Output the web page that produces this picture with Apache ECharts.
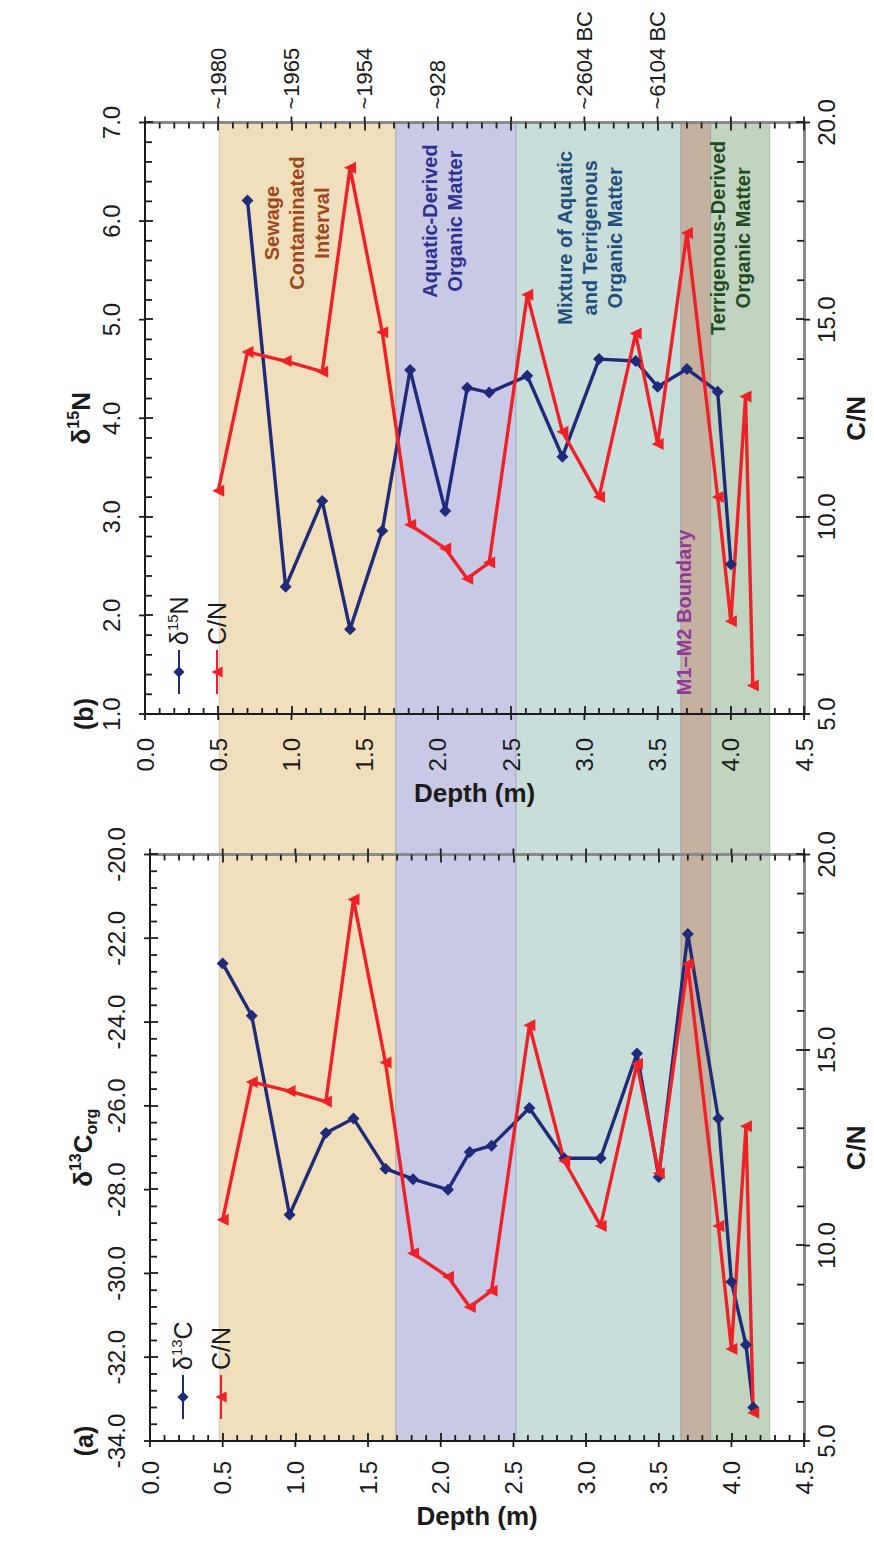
<!DOCTYPE html>
<html>
<head>
<meta charset="utf-8">
<script src="https://cdn.jsdelivr.net/npm/echarts@6/dist/echarts.min.js"></script>
<style>
  html, body { margin: 0; padding: 0; background: #fff; }
  #wrap { position: relative; width: 874px; height: 1545px; overflow: hidden; }
  /* the figure is laid out upright (1545 x 874) and turned a quarter turn */
  #chart { position: absolute; left: 0; top: 0; width: 1545px; height: 874px;
           transform-origin: 0 0; transform: translateY(1545px) rotate(-90deg); }
</style>
</head>
<body>
<div id="wrap"><div id="chart"></div></div>
<script>
// sample depths (m) and measurements
var depth = [0.50, 0.70, 0.96, 1.21, 1.40, 1.62, 1.81, 2.05, 2.20, 2.35, 2.61, 2.85, 3.10, 3.35, 3.50, 3.70, 3.91, 4.00, 4.10, 4.15];
var d13C  = [-22.6, -23.85, -28.6, -26.65, -26.3, -27.5, -27.75, -28.0, -27.1, -26.95, -26.05, -27.25, -27.25, -24.75, -27.7, -21.9, -26.3, -30.2, -31.7, -33.2];
var d15N  = [null, 6.21, 2.29, 3.16, 1.86, 2.86, 4.49, 3.06, 4.31, 4.26, 4.43, 3.61, 4.60, 4.58, 4.32, 4.50, 4.27, 2.52, null, null];
var cn    = [10.66, 14.18, 13.95, 13.68, 18.85, 14.68, 9.8, 9.2, 8.43, 8.84, 15.63, 12.16, 10.5, 14.65, 11.85, 17.2, 10.5, 7.35, 13.05, 5.72];

// depth zones
var bandFrom = [0.5, 1.69, 2.5, 3.61, 3.81];
var bandTo   = [1.69, 2.5, 3.61, 3.81, 4.21];
var bandText = ['Sewage\nContaminated\nInterval', 'Aquatic-Derived\nOrganic Matter',
                'Mixture of Aquatic\nand Terrigenous\nOrganic Matter', 'M1\u2013M2 Boundary',
                'Terrigenous-Derived\nOrganic Matter'];
var bandTextDepth = [1.04, 2.03, 3.04, 3.68, 4.0];
var bandTextN     = [5.98, 6.0, 5.83, 2.03, 5.83];

// age markers on the top of panel (b)
var ageDepth = [0.5, 1.0, 1.5, 2.0, 3.0, 3.5];
var ageText  = ['~1980', '~1965', '~1954', '~928', '~2604 BC', '~6104 BC'];

var font = '"Liberation Sans", Arial, sans-serif';
var ink = '#1b1b1b', gray = '#8a8a8a';
var blue = '#1f2a7a', red = '#ee2226';
var bandFill  = ['#f1deba', '#c7c9e6', '#c7dedb', '#c6b19f', '#c1d4bf'];
var bandColor = ['#a0461f', '#2e3192', '#1f4f7c', '#8d3a9e', '#1f4d22'];

function pairs(xs) {
  var out = [];
  depth.forEach(function (d, i) { if (xs[i] != null) out.push([xs[i], d]); });
  return out;
}

function axis(o) {
  var a = {
    type: 'value', gridIndex: o.grid, position: o.pos,
    min: o.min, max: o.max, interval: o.step, inverse: !!o.inverse, z: 4,
    axisLine: { show: true, onZero: false, lineStyle: { color: o.dark ? ink : gray, width: o.dark ? 2 : 3 } },
    axisTick: { show: true, inside: true, length: 8, lineStyle: { color: ink, width: 1.8 } },
    splitLine: { show: false },
    axisLabel: {
      show: o.labels !== false, margin: o.margin || 10, fontSize: o.fs || 24, color: ink, fontFamily: font,
      hideOverlap: false,
      formatter: o.fmt || function (v) { return v.toFixed(1); }
    }
  };
  if (o.name) {
    a.name = o.name;
    a.nameLocation = 'middle';
    a.nameGap = o.gap;
    a.nameRotate = o.rot || 0;
    a.nameTextStyle = {
      fontFamily: font, fontWeight: 'bold', fontSize: 26, color: ink,
      rich: {
        n: { fontFamily: font, fontWeight: 'bold', fontSize: 26, lineHeight: 32, color: ink },
        s: { fontFamily: font, fontWeight: 'bold', fontSize: 16, lineHeight: 32, verticalAlign: 'top', color: ink },
        b: { fontFamily: font, fontWeight: 'bold', fontSize: 16, lineHeight: 32, verticalAlign: 'bottom', color: ink }
      }
    };
  }
  return a;
}

function ageFmt(v) {
  var i = ageDepth.indexOf(Math.round(v * 10) / 10);
  return i < 0 ? '' : ageText[i];
}

var legendText = {
  fontFamily: font, fontSize: 25, color: ink, lineHeight: 28,
  rich: {
    n: { fontFamily: font, fontSize: 25, lineHeight: 28, color: ink },
    s: { fontFamily: font, fontSize: 15, lineHeight: 28, verticalAlign: 'top', color: ink }
  }
};
function legendFmt(name) {
  if (name === 'δ15N') return '{n|δ}{s|15}{n|N}';
  if (name === 'δ13C') return '{n|δ}{s|13}{n|C}';
  return '{n|' + name + '}';
}

function line(name, xi, yi, xs, color, sym, size) {
  return {
    name: name, type: 'line', xAxisIndex: xi, yAxisIndex: yi, data: pairs(xs),
    symbol: sym, symbolSize: size, z: 6,
    lineStyle: { color: color, width: 3.4 }, itemStyle: { color: color }
  };
}

var chart = echarts.init(document.getElementById('chart'), null, { renderer: 'svg' });

chart.setOption({
  animation: false,
  grid: [
    { left: 831, top: 145, width: 591.5, height: 668 },   // panel (b)
    { left: 104, top: 150, width: 586.5, height: 664 },   // panel (a)
    { left: 104, top: 145, width: 1318.5, height: 668 }   // zones behind both
  ],
  xAxis: [
    axis({ grid: 0, pos: 'top', min: 1, max: 7, step: 1, dark: true, margin: 22,
           name: '{n|δ}{s|15}{n|N}', gap: 45 }),
    axis({ grid: 0, pos: 'bottom', min: 5, max: 20, step: 5, margin: 10,
           name: 'C/N', gap: 12 }),
    axis({ grid: 1, pos: 'top', min: -34, max: -20, step: 2, dark: true, margin: 22,
           name: '{n|δ}{s|13}{n|C}{b|org}', gap: 50 }),
    axis({ grid: 1, pos: 'bottom', min: 5, max: 20, step: 5, margin: 10,
           name: 'C/N', gap: 12 }),
    { type: 'value', gridIndex: 2, min: 0, max: 1, show: false }
  ],
  yAxis: [
    axis({ grid: 0, pos: 'left', min: 0, max: 4.5, step: 0.5, inverse: true, dark: true, margin: 24,
           name: 'Depth (m)', gap: 66, rot: -90 }),
    axis({ grid: 0, pos: 'right', min: 0, max: 4.5, step: 0.5, inverse: true, margin: 13, fs: 22, fmt: ageFmt }),
    axis({ grid: 1, pos: 'left', min: 0, max: 4.5, step: 0.5, inverse: true, dark: true, margin: 20,
           name: 'Depth (m)', gap: 62, rot: -90 }),
    axis({ grid: 1, pos: 'right', min: 0, max: 4.5, step: 0.5, inverse: true, labels: false }),
    { type: 'value', gridIndex: 2, min: 0, max: 4.5, inverse: true, show: false }
  ],
  legend: [
    { data: ['δ15N', 'C/N'], orient: 'vertical', left: 845, top: 160, itemWidth: 44, itemHeight: 14,
      itemGap: 10, selectedMode: false, textStyle: legendText, formatter: legendFmt },
    { data: ['δ13C', 'C/N'], orient: 'vertical', left: 120, top: 164, itemWidth: 44, itemHeight: 14,
      itemGap: 10, selectedMode: false, textStyle: legendText, formatter: legendFmt }
  ],
  series: [
    {
      type: 'line', xAxisIndex: 4, yAxisIndex: 4, data: [[0, 0]], symbol: 'none', silent: true, z: 0,
      lineStyle: { opacity: 0 },
      markArea: {
        silent: true,
        data: bandFrom.map(function (f, i) {
          return [{ yAxis: f, itemStyle: { color: bandFill[i], borderColor: 'rgba(90,90,110,0.25)', borderWidth: 1 } },
                  { yAxis: bandTo[i] }];
        })
      }
    },
    line('δ15N', 0, 0, d15N, blue, 'diamond', 12),
    line('C/N', 1, 0, cn, red, 'triangle', 12),
    line('δ13C', 2, 2, d13C, blue, 'diamond', 12),
    line('C/N', 3, 2, cn, red, 'triangle', 12)
  ]
});

// zone captions and panel letters, placed through the axes of panel (b)
var gfx = bandText.map(function (t, i) {
  var p = chart.convertToPixel({ xAxisIndex: 0, yAxisIndex: 0 }, [bandTextN[i], bandTextDepth[i]]);
  return {
    type: 'text', x: p[0], y: p[1], z: 10, silent: true,
    style: { text: t, fill: bandColor[i], font: 'bold 20px ' + font, lineHeight: 25,
             align: 'center', verticalAlign: 'middle' }
  };
});
var pb = chart.convertToPixel({ xAxisIndex: 0, yAxisIndex: 0 }, [1, 0]);
var pa = chart.convertToPixel({ xAxisIndex: 2, yAxisIndex: 2 }, [-34, 0]);
[['(b)', pb], ['(a)', pa]].forEach(function (e) {
  gfx.push({
    type: 'text', x: e[1][0], y: 84, z: 10, silent: true,
    style: { text: e[0], fill: ink, font: 'bold 25px ' + font, align: 'center', verticalAlign: 'middle' }
  });
});

function steps(a, b, s) {
  var out = [];
  for (var k = 0; a + k * s <= b + 1e-9; k++) out.push(+(a + k * s).toFixed(4));
  return out;
}
function isMajor(v, a, s) { var q = (v - a) / s; return Math.abs(q - Math.round(q)) < 1e-6; }
function tick(p, dx, dy, len) {
  gfx.push({ type: 'line', silent: true, z: 9,
             shape: { x1: p[0], y1: p[1], x2: p[0] + dx * len, y2: p[1] + dy * len },
             style: { stroke: ink, lineWidth: 1.8 } });
}
function panelTicks(xi, ci, yi, xMin, xMax, xMajor, xMinor) {
  steps(0, 4.5, 0.1).forEach(function (d) {
    var l = chart.convertToPixel({ xAxisIndex: xi, yAxisIndex: yi }, [xMin, d]);
    var r = chart.convertToPixel({ xAxisIndex: xi, yAxisIndex: yi }, [xMax, d]);
    if (isMajor(d, 0, 0.5)) { tick(l, -1, 0, 6); tick(r, 1, 0, 6); }
    else { tick(l, 1, 0, 6); tick(r, -1, 0, 6); }
  });
  steps(xMin, xMax, xMinor).forEach(function (v) {
    var t = chart.convertToPixel({ xAxisIndex: xi, yAxisIndex: yi }, [v, 0]);
    if (isMajor(v, xMin, xMajor)) tick(t, 0, -1, 6); else tick(t, 0, 1, 7);
  });
  steps(5, 20, 1).forEach(function (c) {
    var b = chart.convertToPixel({ xAxisIndex: ci, yAxisIndex: yi }, [c, 4.5]);
    if (isMajor(c, 5, 5)) tick(b, 0, 1, 6); else tick(b, 0, -1, 7);
  });
}
panelTicks(0, 1, 0, 1, 7, 1, 0.2);
panelTicks(2, 3, 2, -34, -20, 2, 0.4);

chart.setOption({ graphic: gfx });
</script>
</body>
</html>
